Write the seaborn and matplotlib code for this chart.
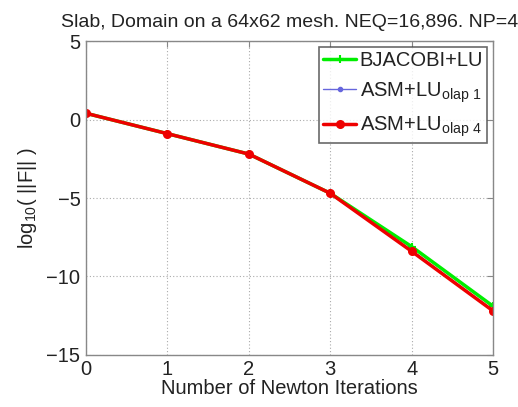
import numpy as np
import pandas as pd
import seaborn as sns
import matplotlib
matplotlib.use("Agg")
import matplotlib.pyplot as plt

# values
iterations = [0, 1, 2, 3, 4, 5]
bjacobi_lu = [0.4, -0.9, -2.2, -4.7, -8.1, -11.9]
asm_lu_olap1 = [0.4, -0.9, -2.2, -4.7, -8.35, -12.15]
asm_lu_olap4 = [0.4, -0.9, -2.2, -4.7, -8.4, -12.2]

labels = ["BJACOBI+LU", r"ASM+LU$_{\mathrm{olap\ 1}}$", r"ASM+LU$_{\mathrm{olap\ 4}}$"]

df = pd.DataFrame({
    "Iteration": iterations * 3,
    "logF": bjacobi_lu + asm_lu_olap1 + asm_lu_olap4,
    "Method": [labels[0]] * 6 + [labels[1]] * 6 + [labels[2]] * 6,
})

sns.set_style("white")
plt.rcParams["font.family"] = ["Liberation Sans", "DejaVu Sans"]
plt.rcParams["mathtext.default"] = "regular"
plt.rcParams["mathtext.fontset"] = "custom"
plt.rcParams["mathtext.rm"] = "Liberation Sans"

fig = plt.figure(figsize=(5.18, 4.07), dpi=100)
ax = fig.add_axes([0.166, 0.128, 0.786, 0.771])

palette = {labels[0]: "#00ee00", labels[1]: "#6666dd", labels[2]: "#ee0000"}
widths = {labels[0]: 2.5, labels[1]: 1.0, labels[2]: 2.5}
markers = {labels[0]: "+", labels[1]: ".", labels[2]: "."}
msizes = {labels[0]: 6, labels[1]: 5, labels[2]: 10}

for lab in labels:
    sub = df[df["Method"] == lab]
    sns.lineplot(data=sub, x="Iteration", y="logF", ax=ax, color=palette[lab],
                 lw=widths[lab], marker=markers[lab], markersize=msizes[lab],
                 markeredgewidth=1.5, markeredgecolor=palette[lab], label=lab)

ax.set_xlim(0, 5)
ax.set_ylim(-15, 5)
ax.set_xticks(range(0, 6))
ax.set_yticks([-15, -10, -5, 0, 5])
ax.set_yticklabels(["\u221215", "\u221210", "\u22125", "0", "5"])
ax.grid(True, linestyle=(0, (1, 2)), color="#aaaaaa", lw=0.8)
for s in ax.spines.values():
    s.set_color("#888888")
    s.set_linewidth(1.0)
ax.tick_params(direction="in", length=4, color="#888888", labelsize=14.5,
               top=True, right=True, labelcolor="#222222")
ax.tick_params(axis="x", pad=4)
ax.tick_params(axis="y", pad=4)

ax.set_xlabel("Number of Newton Iterations", fontsize=14.5, labelpad=0, color="#222222")
ax.set_ylabel(r"log$_{10}$( ||F|| )", fontsize=14.5, labelpad=5, color="#222222")
ax.set_title("Slab, Domain on a 64x62 mesh. NEQ=16,896. NP=4", fontsize=14,
             pad=10, color="#222222")

leg = ax.legend(loc="upper right", fontsize=14.5, frameon=True, fancybox=False,
                borderaxespad=0.3, handlelength=1.6, handletextpad=0.2,
                labelspacing=0.5, borderpad=0.2)
leg.get_frame().set_edgecolor("#444444")
leg.get_frame().set_linewidth(1.2)
for t in leg.get_texts():
    t.set_color("#222222")

fig.savefig("out.png", dpi=100)
